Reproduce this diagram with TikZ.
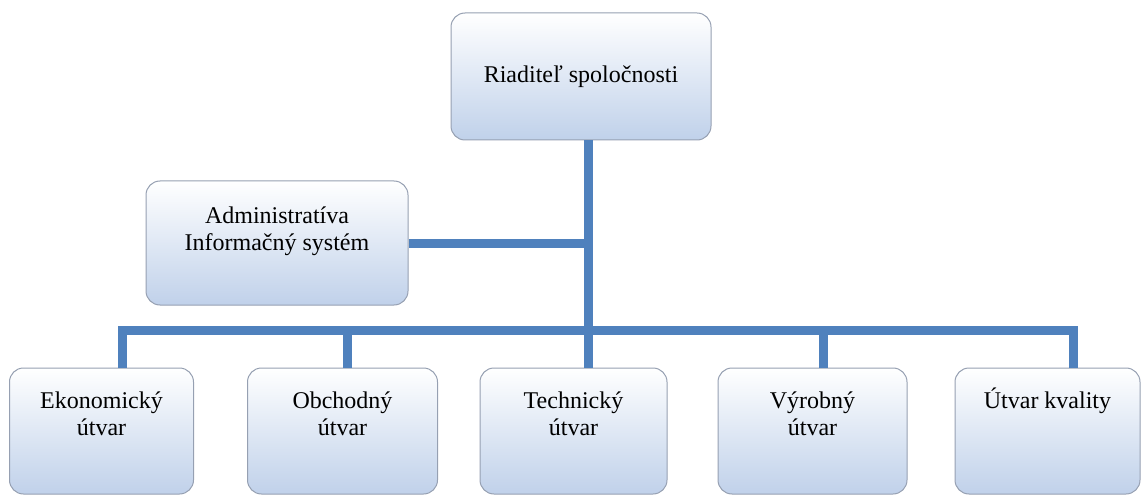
\documentclass[tikz,border=0pt]{standalone}
\usepackage{fontspec}
\setmainfont{Liberation Serif}
\usetikzlibrary{positioning}

\definecolor{lineblue}{RGB}{79,129,189}
\definecolor{boxblue}{RGB}{192,209,234}
\definecolor{boxedge}{RGB}{150,160,178}

\newcommand{\unittext}[4]{\parbox[c][#1][t]{#2}{\centering\rule{0pt}{#3}#4}}

\tikzset{
  unit/.style={draw=boxedge, line width=1pt, rounded corners=14pt,
    top color=white, middle color=boxblue!30, bottom color=boxblue,
    inner sep=0pt, font=\fontsize{24}{27.5}\selectfont},
  link/.style={draw=lineblue, line width=9pt},
}

\begin{document}
\begin{tikzpicture}[x=1pt, y=-1pt]
   \useasboundingbox (0,0) rectangle (1143,497);
   \node[unit] (riad) at (581,76.5) {\unittext{127pt}{260pt}{70pt}{Riaditeľ spoločnosti}};
   \node[unit] (adm) at (277,243) {\unittext{124pt}{262pt}{42pt}{Administratíva\\Informačný systém}};
   \node[unit] (eko) at (101.5,431) {\unittext{126pt}{184pt}{40pt}{Ekonomický\\útvar}};
   \node[unit] (obch) at (342.5,431) {\unittext{126pt}{190pt}{40pt}{Obchodný\\útvar}};
   \node[unit] (tech) at (573.5,431) {\unittext{126pt}{187pt}{40pt}{Technický\\útvar}};
   \node[unit] (vyr) at (812.5,431) {\unittext{126pt}{189pt}{40pt}{Výrobný\\útvar}};
   \node[unit] (kval) at (1047.5,431) {\unittext{126pt}{185pt}{40pt}{Útvar kvality}};
   \coordinate (bus) at (588,330);
   \draw[link] ([xshift=7pt]riad.south) -- (bus);
   \draw[link] (adm.east) -- (adm.east -| bus);
   \draw[link] ([xshift=20.5pt]eko.north) |- (bus);
   \draw[link] ([xshift=4.5pt]obch.north) |- (bus);
   \draw[link] ([xshift=14.5pt]tech.north) |- (bus);
   \draw[link] ([xshift=10.5pt]vyr.north) |- (bus);
   \draw[link] ([xshift=25.5pt]kval.north) |- (bus);
\end{tikzpicture}
\end{document}
